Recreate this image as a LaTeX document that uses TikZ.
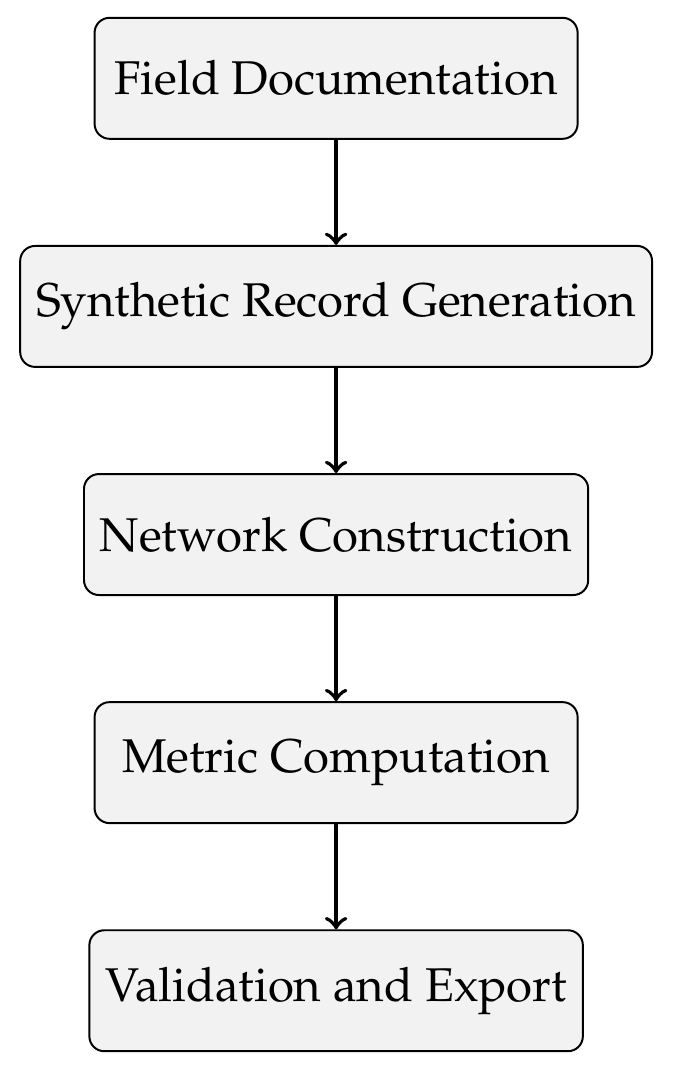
\documentclass[tikz,border=0pt]{standalone}
\usepackage[T1]{fontenc}
\usepackage{mathpazo}
\usetikzlibrary{positioning}
\tikzset{
	stage/.style={draw, rounded corners=3.4pt, fill=gray!10, line width=0.45pt, minimum width=109.8pt, minimum height=27.5pt, inner xsep=3.6pt, font=\fontsize{10.76pt}{13pt}\selectfont},
	flow/.style={->, line width=0.9pt}
}
\begin{document}
\begin{tikzpicture}[node distance=23.9pt]
	\useasboundingbox (-76.4pt,4.1pt) rectangle (77pt,-239.8pt);
	\node[stage] (doc) at (0,-13.7pt) {Field Documentation};
	\node[stage, below=of doc] (gen) {Synthetic Record Generation};
	\node[stage, below=of gen] (net) {Network Construction};
	\node[stage, below=of net] (met) {Metric Computation};
	\node[stage, below=of met] (val) {Validation and Export};
	\draw[flow] (doc) -- (gen);
	\draw[flow] (gen) -- (net);
	\draw[flow] (net) -- (met);
	\draw[flow] (met) -- (val);
\end{tikzpicture}
\end{document}
